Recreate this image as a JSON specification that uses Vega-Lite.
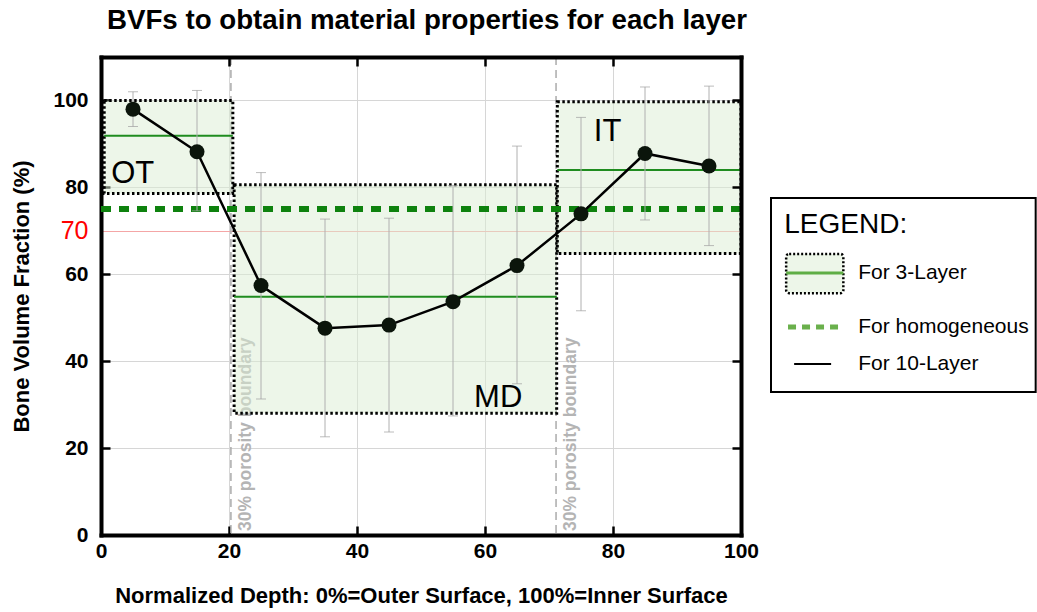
{
  "$schema": "https://vega.github.io/schema/vega-lite/v6.json",
  "background": "white",
  "padding": {"left": 10, "top": 7, "right": 0, "bottom": 5},
  "config": {
    "font": "Liberation Sans",
    "view": {"stroke": null},
    "concat": {"spacing": 11}
  },
  "datasets": {
    "tenLayer": [
      {"depth": 5, "bvf": 98.0, "lo": 94.0, "hi": 102.0},
      {"depth": 15, "bvf": 88.2, "lo": 74.6, "hi": 102.3},
      {"depth": 25, "bvf": 57.4, "lo": 31.3, "hi": 83.4},
      {"depth": 35, "bvf": 47.6, "lo": 22.6, "hi": 72.7},
      {"depth": 45, "bvf": 48.3, "lo": 23.7, "hi": 72.9},
      {"depth": 55, "bvf": 53.7, "lo": 27.4, "hi": 80.4},
      {"depth": 65, "bvf": 62.0, "lo": 34.8, "hi": 89.5},
      {"depth": 75, "bvf": 73.9, "lo": 51.6, "hi": 96.1},
      {"depth": 85, "bvf": 87.8, "lo": 72.5, "hi": 103.1},
      {"depth": 95, "bvf": 84.9, "lo": 66.6, "hi": 103.3}
    ],
    "threeLayer": [
      {"region": "OT", "start": 0.5, "end": 20.6, "low": 78.6, "high": 100, "bvf": 91.9, "tagDepth": 1.6, "tagBvf": 83.1},
      {"region": "MD", "start": 20.8, "end": 71.2, "low": 28.0, "high": 80.6, "bvf": 54.8, "tagDepth": 58.3, "tagBvf": 31.5},
      {"region": "IT", "start": 71.3, "end": 100, "low": 64.8, "high": 99.7, "bvf": 84.0, "tagDepth": 77.0, "tagBvf": 92.8}
    ],
    "homogeneous": [{"model": "homogeneous", "bvf": 75}],
    "boundaries": [
      {"depth": 20.3, "note": "30% porosity boundary"},
      {"depth": 71.1, "note": "30% porosity boundary"}
    ]
  },
  "hconcat": [
    {
      "width": 640,
      "height": 478,
      "title": {
        "text": "BVFs to obtain material properties for each layer",
        "fontSize": 27.7,
        "fontWeight": "bold",
        "color": "black",
        "anchor": "middle",
        "dx": 6,
        "offset": 21
      },
      "resolve": {"axis": {"x": "independent", "y": "independent"}},
      "layer": [
        {
          "layer": [
            {
              "data": {"name": "boundaries"},
              "mark": {"type": "rule", "color": "#ababab", "strokeWidth": 1.5, "strokeDash": [8, 5]},
              "encoding": {"x": {"field": "depth", "type": "quantitative"}}
            },
            {
              "data": {"name": "boundaries"},
              "mark": {"type": "text", "angle": 270, "align": "left", "baseline": "top", "dy": 6, "fontSize": 17.5, "fontWeight": "bold", "color": "#b4b4b4"},
              "encoding": {
                "x": {"field": "depth", "type": "quantitative"},
                "y": {"datum": 0.9, "type": "quantitative"},
                "text": {"field": "note"}
              }
            },
            {
              "data": {"name": "threeLayer"},
              "mark": {"type": "rect", "fill": "#dcedd3", "fillOpacity": 0.5, "stroke": "black", "strokeWidth": 3, "strokeDash": [2.5, 2.5]},
              "encoding": {
                "x": {
                  "field": "start",
                  "type": "quantitative",
                  "scale": {"domain": [0, 100], "nice": false},
                  "axis": {
                    "orient": "bottom",
                    "title": "Normalized Depth: 0%=Outer Surface, 100%=Inner Surface",
                    "values": [0, 20, 40, 60, 80, 100],
                    "grid": true,
                    "gridColor": "#d6d6d6",
                    "gridWidth": 1,
                    "domainColor": "black",
                    "domainWidth": 4,
                    "domainCap": "square",
                    "tickColor": "black",
                    "tickWidth": 2.5,
                    "tickSize": -9,
                    "labelFontSize": 21,
                    "labelFontWeight": "bold",
                    "labelColor": "black",
                    "labelPadding": 14,
                    "labelFlush": false,
                    "titleFontSize": 22,
                    "titleFontWeight": "bold",
                    "titleColor": "black",
                    "titlePadding": 24,
                    "zindex": 0
                  }
                },
                "x2": {"field": "end"},
                "y": {
                  "field": "low",
                  "type": "quantitative",
                  "scale": {"domain": [0, 110], "nice": false},
                  "axis": {
                    "orient": "left",
                    "title": "Bone Volume Fraction (%)",
                    "values": [0, 20, 40, 60, 70, 80, 100],
                    "grid": true,
                    "gridColor": {"condition": {"test": "datum.value === 70", "value": "#f4a6a6"}, "value": "#d6d6d6"},
                    "gridWidth": 1,
                    "domainColor": "black",
                    "domainWidth": 4,
                    "domainCap": "square",
                    "tickColor": {"condition": {"test": "datum.value === 70", "value": "transparent"}, "value": "black"},
                    "tickWidth": 2.5,
                    "tickSize": -9,
                    "labelColor": {"condition": {"test": "datum.value === 70", "value": "#ff0000"}, "value": "black"},
                    "labelFontSize": {"condition": {"test": "datum.value === 70", "value": 25}, "value": 21},
                    "labelFontWeight": {"condition": {"test": "datum.value === 70", "value": "normal"}, "value": "bold"},
                    "labelPadding": 22,
                    "labelFlush": false,
                    "titleFontSize": 22,
                    "titleFontWeight": "bold",
                    "titleColor": "black",
                    "titlePadding": 19,
                    "zindex": 0
                  }
                },
                "y2": {"field": "high"}
              }
            },
            {
              "data": {"name": "threeLayer"},
              "mark": {"type": "rule", "color": "#1f8c1f", "strokeWidth": 2},
              "encoding": {
                "x": {"field": "start", "type": "quantitative"},
                "x2": {"field": "end"},
                "y": {"field": "bvf", "type": "quantitative"}
              }
            },
            {
              "data": {"name": "homogeneous"},
              "mark": {"type": "rule", "color": "#0e820e", "strokeWidth": 6, "strokeDash": [10, 8]},
              "encoding": {"y": {"field": "bvf", "type": "quantitative"}}
            },
            {
              "data": {"name": "tenLayer"},
              "mark": {"type": "rule", "color": "#b0b0b0", "strokeWidth": 1},
              "encoding": {
                "x": {"field": "depth", "type": "quantitative"},
                "y": {"field": "lo", "type": "quantitative"},
                "y2": {"field": "hi"}
              }
            },
            {
              "data": {"name": "tenLayer"},
              "mark": {"type": "tick", "orient": "horizontal", "color": "#a0a0a0", "size": 10, "thickness": 1},
              "encoding": {
                "x": {"field": "depth", "type": "quantitative"},
                "y": {"field": "lo", "type": "quantitative"}
              }
            },
            {
              "data": {"name": "tenLayer"},
              "mark": {"type": "tick", "orient": "horizontal", "color": "#a0a0a0", "size": 10, "thickness": 1},
              "encoding": {
                "x": {"field": "depth", "type": "quantitative"},
                "y": {"field": "hi", "type": "quantitative"}
              }
            },
            {
              "data": {"name": "threeLayer"},
              "mark": {"type": "text", "align": "left", "baseline": "middle", "fontSize": 31, "color": "black"},
              "encoding": {
                "x": {"field": "tagDepth", "type": "quantitative"},
                "y": {"field": "tagBvf", "type": "quantitative"},
                "text": {"field": "region"}
              }
            }
          ]
        },
        {
          "data": {"name": "tenLayer"},
          "layer": [
            {
              "mark": {"type": "line", "color": "black", "strokeWidth": 2.5},
              "encoding": {
                "x": {
                  "field": "depth",
                  "type": "quantitative",
                  "axis": {
                    "orient": "top",
                    "title": null,
                    "values": [20, 40, 60, 80],
                    "labels": false,
                    "grid": false,
                    "domainColor": "black",
                    "domainWidth": 4,
                    "domainCap": "square",
                    "tickColor": "black",
                    "tickWidth": 2.5,
                    "tickSize": -9,
                    "zindex": 1
                  }
                },
                "y": {
                  "field": "bvf",
                  "type": "quantitative",
                  "axis": {
                    "orient": "right",
                    "title": null,
                    "values": [20, 40, 60, 80, 100],
                    "labels": false,
                    "grid": false,
                    "domainColor": "black",
                    "domainWidth": 4,
                    "domainCap": "square",
                    "tickColor": "black",
                    "tickWidth": 2.5,
                    "tickSize": -9,
                    "zindex": 1
                  }
                }
              }
            },
            {
              "mark": {"type": "point", "shape": "circle", "filled": true, "size": 225, "color": "#0b150b", "opacity": 1},
              "encoding": {
                "x": {"field": "depth", "type": "quantitative"},
                "y": {"field": "bvf", "type": "quantitative"}
              }
            }
          ]
        }
      ]
    },
    {
      "width": 266,
      "height": 478,
      "layer": [
        {
          "data": {"values": [{"part": "frame"}]},
          "mark": {"type": "rect", "fill": "white", "stroke": "black", "strokeWidth": 2},
          "encoding": {
            "x": {"datum": 0, "type": "quantitative", "scale": {"domain": [0, 100], "nice": false}, "axis": null},
            "x2": {"datum": 99.5},
            "y": {"datum": 29.5, "type": "quantitative", "scale": {"domain": [0, 100], "nice": false, "reverse": true}, "axis": null},
            "y2": {"datum": 70.1}
          }
        },
        {
          "data": {"values": [{"heading": "LEGEND:"}]},
          "mark": {"type": "text", "align": "left", "baseline": "middle", "fontSize": 28, "color": "black"},
          "encoding": {
            "x": {"datum": 5, "type": "quantitative"},
            "y": {"datum": 35.1, "type": "quantitative"},
            "text": {"field": "heading"}
          }
        },
        {
          "data": {"values": [{"part": "3-layer box"}]},
          "mark": {"type": "rect", "fill": "#dcedd3", "fillOpacity": 0.5, "stroke": "black", "strokeWidth": 2.5, "strokeDash": [2, 2], "cornerRadius": 3},
          "encoding": {
            "x": {"datum": 5.7, "type": "quantitative"},
            "x2": {"datum": 27.2},
            "y": {"datum": 41.2, "type": "quantitative"},
            "y2": {"datum": 49.4}
          }
        },
        {
          "data": {"values": [{"part": "3-layer line"}]},
          "mark": {"type": "rule", "color": "#5fae45", "strokeWidth": 3},
          "encoding": {
            "x": {"datum": 5.7, "type": "quantitative"},
            "x2": {"datum": 27.2},
            "y": {"datum": 45.2, "type": "quantitative"}
          }
        },
        {
          "data": {"values": [{"part": "homogeneous line"}]},
          "mark": {"type": "rule", "color": "#6ab04c", "strokeWidth": 5, "strokeDash": [8, 6]},
          "encoding": {
            "x": {"datum": 6.4, "type": "quantitative"},
            "x2": {"datum": 27.2},
            "y": {"datum": 56.5, "type": "quantitative"}
          }
        },
        {
          "data": {"values": [{"part": "10-layer line"}]},
          "mark": {"type": "rule", "color": "black", "strokeWidth": 2},
          "encoding": {
            "x": {"datum": 8.7, "type": "quantitative"},
            "x2": {"datum": 22.6},
            "y": {"datum": 64.2, "type": "quantitative"}
          }
        },
        {
          "data": {"values": [{"entry": "For 3-Layer"}]},
          "mark": {"type": "text", "align": "left", "baseline": "middle", "fontSize": 21, "color": "black"},
          "encoding": {
            "x": {"datum": 32.8, "type": "quantitative"},
            "y": {"datum": 45.2, "type": "quantitative"},
            "text": {"field": "entry"}
          }
        },
        {
          "data": {"values": [{"entry": "For homogeneous"}]},
          "mark": {"type": "text", "align": "left", "baseline": "middle", "fontSize": 21, "color": "black"},
          "encoding": {
            "x": {"datum": 32.8, "type": "quantitative"},
            "y": {"datum": 56.5, "type": "quantitative"},
            "text": {"field": "entry"}
          }
        },
        {
          "data": {"values": [{"entry": "For 10-Layer"}]},
          "mark": {"type": "text", "align": "left", "baseline": "middle", "fontSize": 21, "color": "black"},
          "encoding": {
            "x": {"datum": 32.8, "type": "quantitative"},
            "y": {"datum": 64.2, "type": "quantitative"},
            "text": {"field": "entry"}
          }
        }
      ]
    }
  ]
}
